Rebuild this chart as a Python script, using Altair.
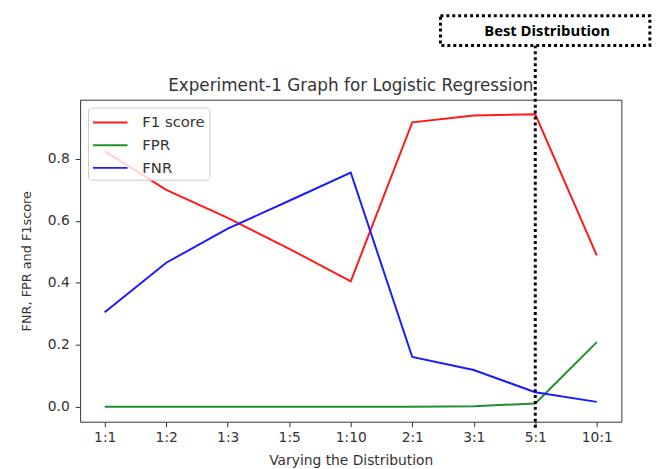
import json
import altair as alt
import pandas as pd

categories = ["1:1", "1:2", "1:3", "1:5", "1:10", "2:1", "3:1", "5:1", "10:1"]
f1_score = [0.825, 0.70, 0.61, 0.51, 0.405, 0.918, 0.940, 0.944, 0.489]
fpr = [0.0, 0.0, 0.0, 0.0, 0.0, 0.0, 0.002, 0.011, 0.209]
fnr = [0.305, 0.465, 0.575, 0.665, 0.756, 0.161, 0.119, 0.047, 0.016]
series_names = ["F1 score", "FPR", "FNR"]
series_colors = ["#ff1a1a", "#1f8f2f", "#1a1aff"]
best_label = "5:1"
annotation_text = "Best Distribution"
title_text = "Experiment-1 Graph for Logistic Regression"
x_title = "Varying the Distribution"
y_title = "FNR, FPR and F1score"

rows = []
for name, vals in zip(series_names, [f1_score, fpr, fnr]):
    for i, (c, v) in enumerate(zip(categories, vals)):
        rows.append({"idx": i, "cat": c, "value": v, "series": name})
df = pd.DataFrame(rows)

best_idx = categories.index(best_label)
ann_df = pd.DataFrame({"idx": [best_idx], "text": [annotation_text]})
title_df = pd.DataFrame({"text": [title_text]})
FONT = "DejaVu Sans"
W, H = 548, 326

label_expr = json.dumps(categories) + "[round(datum.value)]"

x_enc = alt.X(
    "idx:Q",
    scale=alt.Scale(domain=[-0.4, len(categories) - 0.6], nice=False, zero=False),
    axis=alt.Axis(
        values=list(range(len(categories))),
        labelExpr=label_expr,
        title=x_title,
        grid=False,
        domain=False,
        tickSize=5,
        tickColor="#333",
        labelFontSize=14,
        labelColor="#333",
        labelPadding=4,
        titleFontSize=14,
        titleFontWeight="normal",
        titleColor="#333",
        titlePadding=9,
        labelFont=FONT,
        titleFont=FONT,
    ),
)
y_enc = alt.Y(
    "value:Q",
    scale=alt.Scale(domain=[-0.048, 0.991], nice=False, zero=False),
    axis=alt.Axis(
        values=[0.0, 0.2, 0.4, 0.6, 0.8],
        format=".1f",
        title=y_title,
        grid=False,
        domain=False,
        tickSize=5,
        tickColor="#333",
        labelFontSize=14,
        labelColor="#333",
        labelPadding=6,
        titleFontSize=13,
        titleFontWeight="normal",
        titleColor="#333",
        titlePadding=14,
        labelFont=FONT,
        titleFont=FONT,
    ),
)

lines = alt.Chart(df).mark_line(strokeWidth=2).encode(
    x=x_enc,
    y=y_enc,
    color=alt.Color(
        "series:N",
        scale=alt.Scale(domain=series_names, range=series_colors),
        sort=series_names,
        legend=alt.Legend(
            orient="none",
            legendX=8,
            legendY=8,
            title=None,
            symbolType="M-1,0L2.5,0",
            symbolSize=400,
            symbolStrokeWidth=2,
            labelFontSize=15,
            labelFont=FONT,
            labelColor="#333",
            fillColor="rgba(255,255,255,0.8)",
            strokeColor="#cccccc",
            cornerRadius=3,
            padding=4,
            rowPadding=4,
            labelOffset=29,
        ),
    ),
    order="idx:Q",
)

rule = alt.Chart(ann_df).mark_rule(
    color="black", strokeWidth=3, strokeDash=[3, 3]
).encode(
    x=alt.X("idx:Q"),
    y=alt.value(-55),
    y2=alt.value(H + 6),
)

box = alt.Chart(ann_df).mark_rect(
    fill="white", stroke="black", strokeWidth=3, strokeDash=[3, 3],
    xOffset=-96, x2Offset=116,
).encode(
    x=alt.X("idx:Q"),
    x2=alt.X2("idx"),
    y=alt.value(-85),
    y2=alt.value(-55),
)

label = alt.Chart(ann_df).mark_text(
    font="Open Sans", fontWeight="bold", fontSize=15,
    color="black", dx=12, baseline="middle", align="center",
).encode(
    x=alt.X("idx:Q"),
    y=alt.value(-70),
    text="text:N",
)

title = alt.Chart(title_df).mark_text(
    font=FONT, fontSize=17, color="#333", baseline="middle", align="center",
).encode(
    x=alt.value(W / 2),
    y=alt.value(-14),
    text="text:N",
)

chart = alt.layer(lines, rule, box, label, title).properties(
    width=W,
    height=H,
    background="white",
    autosize=alt.AutoSizeParams(type="none"),
    padding={"left": 73, "top": 90, "right": 31, "bottom": 45},
).configure_view(
    stroke="#333", strokeWidth=1
)

chart.save("out.html", embed_options={"renderer": "svg", "actions": False})
